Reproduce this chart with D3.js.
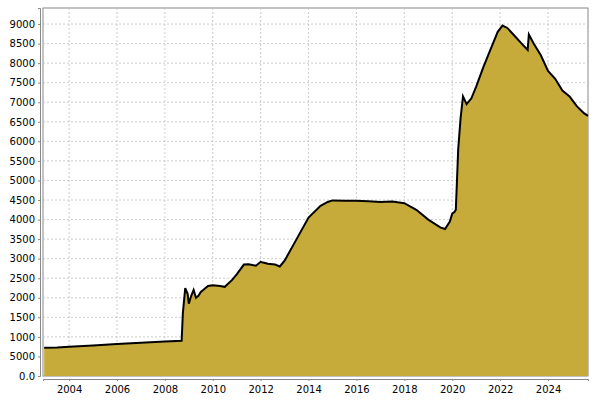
<!DOCTYPE html>
<html>
<head>
<meta charset="UTF-8">
<script src="https://d3js.org/d3.v7.min.js"></script>
<style>
body { margin: 0; background: #fff; }
text { font-family: "DejaVu Sans", sans-serif; font-size: 10px; fill: #000; }
</style>
</head>
<body>
<svg id="chart" width="600" height="400"></svg>
<script>
const years = [2002.96, 2003.5, 2004, 2005, 2006, 2007, 2008, 2008.7, 2008.75, 2008.85, 2008.95, 2009.0, 2009.1, 2009.2, 2009.3, 2009.4, 2009.5, 2009.6, 2009.8, 2010, 2010.3, 2010.5, 2010.8, 2011, 2011.3, 2011.5, 2011.8, 2012, 2012.1, 2012.3, 2012.6, 2012.8, 2013, 2013.5, 2014, 2014.5, 2014.8, 2015, 2015.5, 2016, 2016.5, 2017, 2017.5, 2018, 2018.5, 2019, 2019.5, 2019.7, 2019.9, 2020, 2020.1, 2020.15, 2020.25, 2020.35, 2020.45, 2020.6, 2020.8, 2021, 2021.3, 2021.6, 2021.9, 2022.1, 2022.3, 2022.6, 2022.9, 2023.15, 2023.2, 2023.4, 2023.7, 2024, 2024.3, 2024.6, 2024.9, 2025.2, 2025.5, 2025.67];
const values = [720, 730, 750, 780, 820, 850, 880, 900, 1600, 2250, 2100, 1850, 2050, 2200, 2000, 2050, 2150, 2200, 2300, 2320, 2300, 2280, 2450, 2600, 2850, 2860, 2820, 2920, 2900, 2870, 2850, 2800, 2950, 3500, 4050, 4350, 4450, 4490, 4480, 4480, 4470, 4450, 4460, 4420, 4250, 4000, 3800, 3760, 3950, 4150, 4200, 4250, 5800, 6600, 7150, 6950, 7100, 7400, 7900, 8350, 8800, 8960, 8900, 8700, 8500, 8340, 8730, 8500, 8200, 7800, 7600, 7300, 7150, 6900, 6720, 6650];
const yTicks = [0, 500, 1000, 1500, 2000, 2500, 3000, 3500, 4000, 4500, 5000, 5500, 6000, 6500, 7000, 7500, 8000, 8500, 9000];
const yTickLabels = ["0.0", "5000", "1000", "1500", "2000", "2500", "3000", "3500", "4000", "4500", "5000", "5500", "6000", "6500", "7000", "7500", "8000", "8500", "9000"];
const xTicks = [2004, 2006, 2008, 2010, 2012, 2014, 2016, 2018, 2020, 2022, 2024];

const L = 43, R = 588, T = 8, B = 376;
const svg = d3.select("#chart");
const x = d3.scaleLinear().domain([2002.91, 2025.67]).range([L, R]);
const y = d3.scaleLinear().domain([0, 9410]).range([B, T]);
const data = years.map((d, i) => ({ t: d, v: values[i] }));

svg.append("rect").attr("x", L).attr("y", T).attr("width", R - L).attr("height", B - T)
  .attr("fill", "#fff").attr("stroke", "#888");

const grid = svg.append("g").attr("stroke", "#c0c0c0").attr("stroke-dasharray", "2,2").attr("stroke-width", 0.8);
grid.selectAll(".gx").data(xTicks).enter().append("line")
  .attr("x1", d => x(d)).attr("x2", d => x(d)).attr("y1", T).attr("y2", B);
grid.selectAll(".gy").data(yTicks).enter().append("line")
  .attr("x1", L).attr("x2", R).attr("y1", d => y(d)).attr("y2", d => y(d));

svg.append("path").datum(data)
  .attr("fill", "#c6ab3b")
  .attr("d", d3.area().x(d => x(d.t)).y0(y(0)).y1(d => y(d.v)));
svg.append("path").datum(data)
  .attr("fill", "none").attr("stroke", "#000").attr("stroke-width", 2)
  .attr("d", d3.line().x(d => x(d.t)).y(d => y(d.v)));

const yAxis = d3.axisLeft(y).tickValues(yTicks).tickFormat((d, i) => yTickLabels[i]).tickSize(2).tickPadding(3);
svg.append("g").attr("transform", `translate(${L - 3},0)`).call(yAxis)
  .call(g => g.select(".domain").attr("stroke", "#888"));
const xAxis = d3.axisBottom(x).tickValues(xTicks).tickFormat(d3.format("d")).tickSize(2).tickPadding(5);
svg.append("g").attr("transform", `translate(0,${B + 3})`).call(xAxis)
  .call(g => g.select(".domain").attr("stroke", "#888"));
svg.selectAll(".tick line").attr("stroke", "#888");
</script>
</body>
</html>
